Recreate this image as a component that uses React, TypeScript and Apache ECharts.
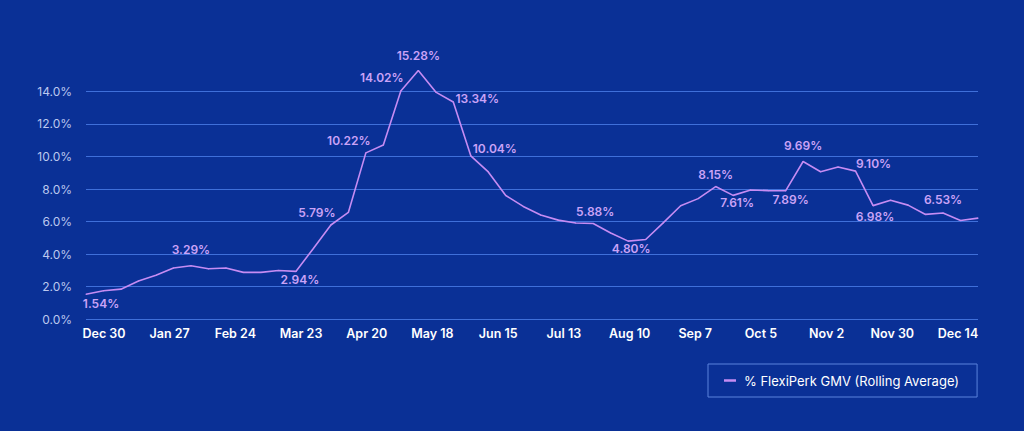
import React, { useEffect, useRef } from "react";
import * as echarts from "echarts";

const weeks = [
  "Dec 30", "Jan 6", "Jan 13", "Jan 20", "Jan 27", "Feb 3", "Feb 10", "Feb 17", "Feb 24",
  "Mar 3", "Mar 10", "Mar 17", "Mar 24", "Mar 31", "Apr 7", "Apr 14", "Apr 21", "Apr 28",
  "May 5", "May 12", "May 19", "May 26", "Jun 2", "Jun 9", "Jun 16", "Jun 23", "Jun 30",
  "Jul 7", "Jul 14", "Jul 21", "Jul 28", "Aug 4", "Aug 11", "Aug 18", "Aug 25", "Sep 1",
  "Sep 8", "Sep 15", "Sep 22", "Sep 29", "Oct 6", "Oct 13", "Oct 20", "Oct 27", "Nov 3",
  "Nov 10", "Nov 17", "Nov 24", "Dec 1", "Dec 8", "Dec 15", "Dec 22",
];

const gmvShare = [
  1.54, 1.75, 1.85, 2.35, 2.7, 3.15, 3.29, 3.1, 3.15, 2.88, 2.88, 3.0, 2.94,
  4.35, 5.79, 6.56, 10.22, 10.7, 14.02, 15.28, 13.95, 13.34, 10.04, 9.05, 7.6, 6.93,
  6.4, 6.09, 5.91, 5.88, 5.3, 4.8, 4.9, 5.92, 6.97, 7.41, 8.15, 7.61, 7.94,
  7.9, 7.89, 9.69, 9.06, 9.35, 9.1, 6.98, 7.31, 7.01, 6.44, 6.53, 6.07, 6.21,
];

const tickLabels = [
  "Dec 30", "Jan 27", "Feb 24", "Mar 23", "Apr 20", "May 18", "Jun 15",
  "Jul 13", "Aug 10", "Sep 7", "Oct 5", "Nov 2", "Nov 30", "Dec 14",
];

const yTicks = [0, 2, 4, 6, 8, 10, 12, 14];

const seriesName = "% FlexiPerk GMV (Rolling Average)";

// index -> label offset [dx, dy] from the point
const labelOffsets: Record<number, [number, number]> = {
  0: [15, 9.5],
  6: [0, -16],
  12: [4, 8],
  14: [-14, -12.5],
  16: [-17, -12],
  18: [-19, -13.5],
  19: [0, -15],
  21: [24, -4],
  22: [24, -7],
  29: [2, -12],
  31: [3, 7],
  36: [0, -12.5],
  37: [4, 7.5],
  40: [5, 9],
  41: [0, -16],
  44: [18, -8],
  45: [2, 11],
  49: [0, -13],
};

const BG = "#0a3096";
const LINE = "#c68cf3";
const LABEL = "#caa3f7";

export default function App() {
  const ref = useRef<HTMLDivElement>(null);

  useEffect(() => {
    document.body.style.margin = "0";
    document.body.style.background = BG;
    if (!ref.current) return;
    const chart = echarts.init(ref.current, undefined, { renderer: "svg" });

    const data = gmvShare.map((v, i) => {
      const off = labelOffsets[i];
      if (!off) return { value: v, label: { show: false } };
      return {
        value: v,
        label: {
          show: true,
          position: "inside",
          offset: off,
          formatter: v.toFixed(2) + "%",
        },
      };
    });

    chart.setOption({
      animation: false,
      backgroundColor: BG,
      textStyle: { fontFamily: "Inter, 'Noto Sans', sans-serif" },
      grid: [
        { left: 86, right: 46, top: 91.3, bottom: 111.7, containLabel: false },
        { left: 104, right: 66, top: 91.3, bottom: 111.7, containLabel: false },
      ],
      legend: {
        show: true,
        data: [seriesName],
        left: 708,
        top: 364,
        padding: [10, 18, 10, 16],
        borderColor: "#5a82dc",
        borderWidth: 1,
        icon: "rect",
        itemWidth: 12,
        itemHeight: 2.5,
        textStyle: {
          color: "#ffffff",
          fontSize: 13,
          fontFamily: "Inter, sans-serif",
          padding: [0, 0, 0, 3],
        },
      },
      xAxis: [
        {
          type: "category",
          gridIndex: 0,
          data: weeks,
          boundaryGap: false,
          axisLine: { show: false },
          axisTick: { show: false },
          axisLabel: { show: false },
          splitLine: { show: false },
        },
        {
          type: "category",
          gridIndex: 1,
          data: tickLabels,
          boundaryGap: false,
          axisLine: { show: false },
          axisTick: { show: false },
          axisLabel: {
            show: true,
            interval: 0,
            color: "#ffffff",
            fontSize: 12.5,
            fontWeight: 600,
            margin: 8,
            fontFamily: "Inter, sans-serif",
          },
          splitLine: { show: false },
        },
      ],
      yAxis: [
        {
          type: "value",
          gridIndex: 0,
          min: yTicks[0],
          max: yTicks[yTicks.length - 1],
          interval: 2,
          axisLine: { show: false },
          axisTick: { show: false },
          axisLabel: {
            color: "#bcc8ef",
            fontSize: 12,
            margin: 14,
            formatter: (v: number) => v.toFixed(1) + "%",
            fontFamily: "Inter, sans-serif",
          },
          splitLine: { show: true, lineStyle: { color: "#3f6fd9", width: 1 } },
        },
        {
          type: "value",
          gridIndex: 1,
          min: 0,
          max: 14,
          show: false,
          splitLine: { show: false },
        },
      ],
      series: [
        {
          name: seriesName,
          type: "line",
          xAxisIndex: 0,
          yAxisIndex: 0,
          data,
          clip: false,
          symbol: "circle",
          symbolSize: 1,
          showSymbol: true,
          itemStyle: { color: LINE },
          lineStyle: { color: LINE, width: 1.6 },
          label: {
            color: LABEL,
            fontSize: 12,
            fontWeight: 600,
            fontFamily: "Inter, sans-serif",
          },
          emphasis: { disabled: true },
        },
      ],
    });

    return () => chart.dispose();
  }, []);

  return <div ref={ref} style={{ width: 1024, height: 431 }} />;
}
